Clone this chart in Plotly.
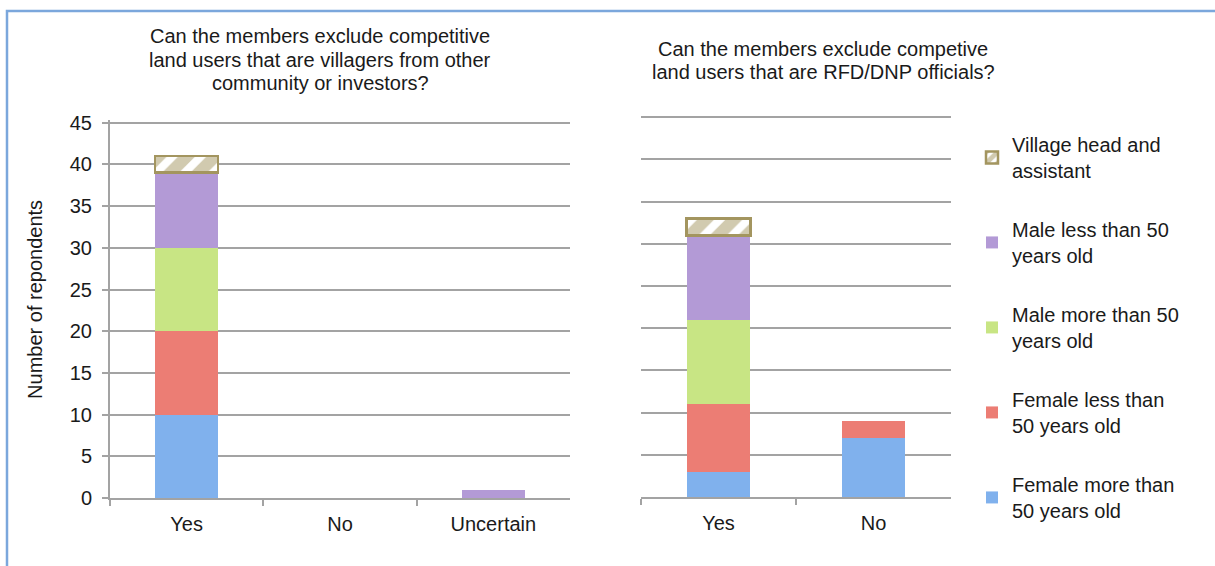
import plotly.graph_objects as go

# ---------------- data ----------------
cats_left = ["Yes", "No", "Uncertain"]
cats_right = ["Yes", "No"]

series_names = [
    "Female more than<br>50 years old",
    "Female less than<br>50 years old",
    "Male more than 50<br>years old",
    "Male less than 50<br>years old",
    "Village head and<br>assistant",
]
left_female_more = [10, 0, 0]
left_female_less = [10, 0, 0]
left_male_more = [10, 0, 0]
left_male_less = [9, 0, 1]
left_village_head = [2, 0, 0]

right_female_more = [3, 7]
right_female_less = [8, 2]
right_male_more = [10, 0]
right_male_less = [10, 0]
right_village_head = [2, 0]

left_title_lines = [
    "Can the members exclude competitive",
    "land users that are villagers from other",
    "community or investors?",
]
right_title_lines = [
    "Can the members exclude competive",
    "land users that are RFD/DNP officials?",
]
y_title = "Number of repondents"
y_ticks = [0, 5, 10, 15, 20, 25, 30, 35, 40, 45]

# ---------------- styling ----------------
colors = ["#80b1ed", "#ec7d74", "#c8e584", "#b39ad6", "#ffffff"]
hatch_color = "#a3955f"
grid_color = "#a3a3a3"
FONT = "Liberation Sans, Arial, sans-serif"
TXT = "#1a1a1a"
W, H = 1215, 566
Y_MAX = 45.3  # a little headroom so the 45 gridline is drawn

left_vals = [left_female_more, left_female_less, left_male_more, left_male_less, left_village_head]
right_vals = [right_female_more, right_female_less, right_male_more, right_male_less, right_village_head]


def nz(vals):
    # zero-height segments are not drawn
    return [v if v else None for v in vals]


fig = go.Figure()

n = len(series_names)
for i, name in enumerate(series_names):
    is_hatch = i == n - 1
    marker = dict(color=colors[i], line=dict(width=0))
    if is_hatch:
        marker = dict(
            color="white",
            line=dict(color=hatch_color, width=2.5),
            pattern=dict(shape="/", fgcolor=hatch_color, bgcolor="white",
                         size=20, solidity=0.6),
        )
    fig.add_trace(go.Bar(
        x=cats_left, y=nz(left_vals[i]), name=name, marker=marker,
        xaxis="x", yaxis="y", legendgroup=f"g{i}", legendrank=n - i,
        showlegend=True,
    ))
    fig.add_trace(go.Bar(
        x=cats_right, y=nz(right_vals[i]), name=name, marker=marker,
        xaxis="x2", yaxis="y2", legendgroup=f"g{i}", legendrank=n - i,
        showlegend=False,
    ))


# vertical placement: the page capture maps layout px -> screen px as
# screen = 7 + 0.970 * layout, so targets are converted back here
def sy(target):
    return (target - 7.0) / 0.970


def px_x(v):
    return v / W


def px_y(target):
    return 1 - sy(target) / H


def y_domain(t_zero, t_45):
    z, t = sy(t_zero), sy(t_45)
    ppu = (z - t) / 45.0
    top = z - ppu * Y_MAX
    return [1 - z / H, 1 - top / H]


axis_font = dict(family=FONT, size=20, color=TXT)

fig.update_layout(
    width=W, height=H, autosize=False,
    margin=dict(l=0, r=0, t=0, b=0),
    paper_bgcolor="white", plot_bgcolor="white",
    barmode="stack", bargap=0.59,
    font=axis_font,
    xaxis=dict(
        domain=[px_x(110), px_x(570)], anchor="y",
        showline=True, linecolor=grid_color, linewidth=2,
        ticks="outside", tickson="boundaries", ticklen=6, tickcolor=grid_color, tickwidth=2,
        showgrid=False, tickfont=axis_font, ticklabelstandoff=7,
    ),
    yaxis=dict(
        domain=y_domain(499, 122), anchor="x",
        range=[0, Y_MAX], tickvals=y_ticks,
        showline=True, linecolor=grid_color, linewidth=2,
        ticks="outside", ticklen=6, tickcolor=grid_color, tickwidth=2,
        showgrid=True, gridcolor=grid_color, gridwidth=2,
        zeroline=False, tickfont=axis_font, ticklabelstandoff=6,
    ),
    xaxis2=dict(
        domain=[px_x(641), px_x(951)], anchor="y2",
        showline=True, linecolor=grid_color, linewidth=2,
        ticks="outside", tickson="boundaries", ticklen=6, tickcolor=grid_color, tickwidth=2,
        showgrid=False, tickfont=axis_font, ticklabelstandoff=7,
    ),
    yaxis2=dict(
        domain=y_domain(498, 116.5), anchor="x2",
        range=[0, Y_MAX], tickvals=y_ticks,
        showline=False, showticklabels=False, ticks="",
        showgrid=True, gridcolor=grid_color, gridwidth=2, zeroline=False,
    ),
    legend=dict(
        x=px_x(972), y=1 - 121 / H, xanchor="left", yanchor="top",
        traceorder="grouped", tracegroupgap=30,
        font=dict(family=FONT, size=20, color=TXT),
        bgcolor="rgba(0,0,0,0)",
    ),
    showlegend=True,
)

annotations = []
for k, line in enumerate(left_title_lines):
    annotations.append(dict(
        text=line, x=px_x(320), y=px_y(35.5 + 23.3 * k), xref="paper", yref="paper",
        xanchor="center", yanchor="middle", showarrow=False,
        font=dict(family=FONT, size=20, color=TXT),
    ))
for k, line in enumerate(right_title_lines):
    annotations.append(dict(
        text=line, x=px_x(823), y=px_y(48 + 23.3 * k), xref="paper", yref="paper",
        xanchor="center", yanchor="middle", showarrow=False,
        font=dict(family=FONT, size=20, color=TXT),
    ))
annotations.append(dict(
    text=y_title, x=px_x(35), y=px_y(300), xref="paper", yref="paper",
    xanchor="center", yanchor="middle", textangle=-90, showarrow=False,
    font=dict(family=FONT, size=20, color=TXT),
))
fig.update_layout(annotations=annotations)

# outer frame (light blue border, continuing past the right/bottom edge)
fig.add_shape(
    type="rect", xref="paper", yref="paper",
    x0=px_x(7), x1=1.05, y0=-0.05, y1=px_y(10),
    line=dict(color="#7ba7dc", width=2.5), fillcolor="rgba(0,0,0,0)", layer="above",
)

fig.write_html("out.html")
